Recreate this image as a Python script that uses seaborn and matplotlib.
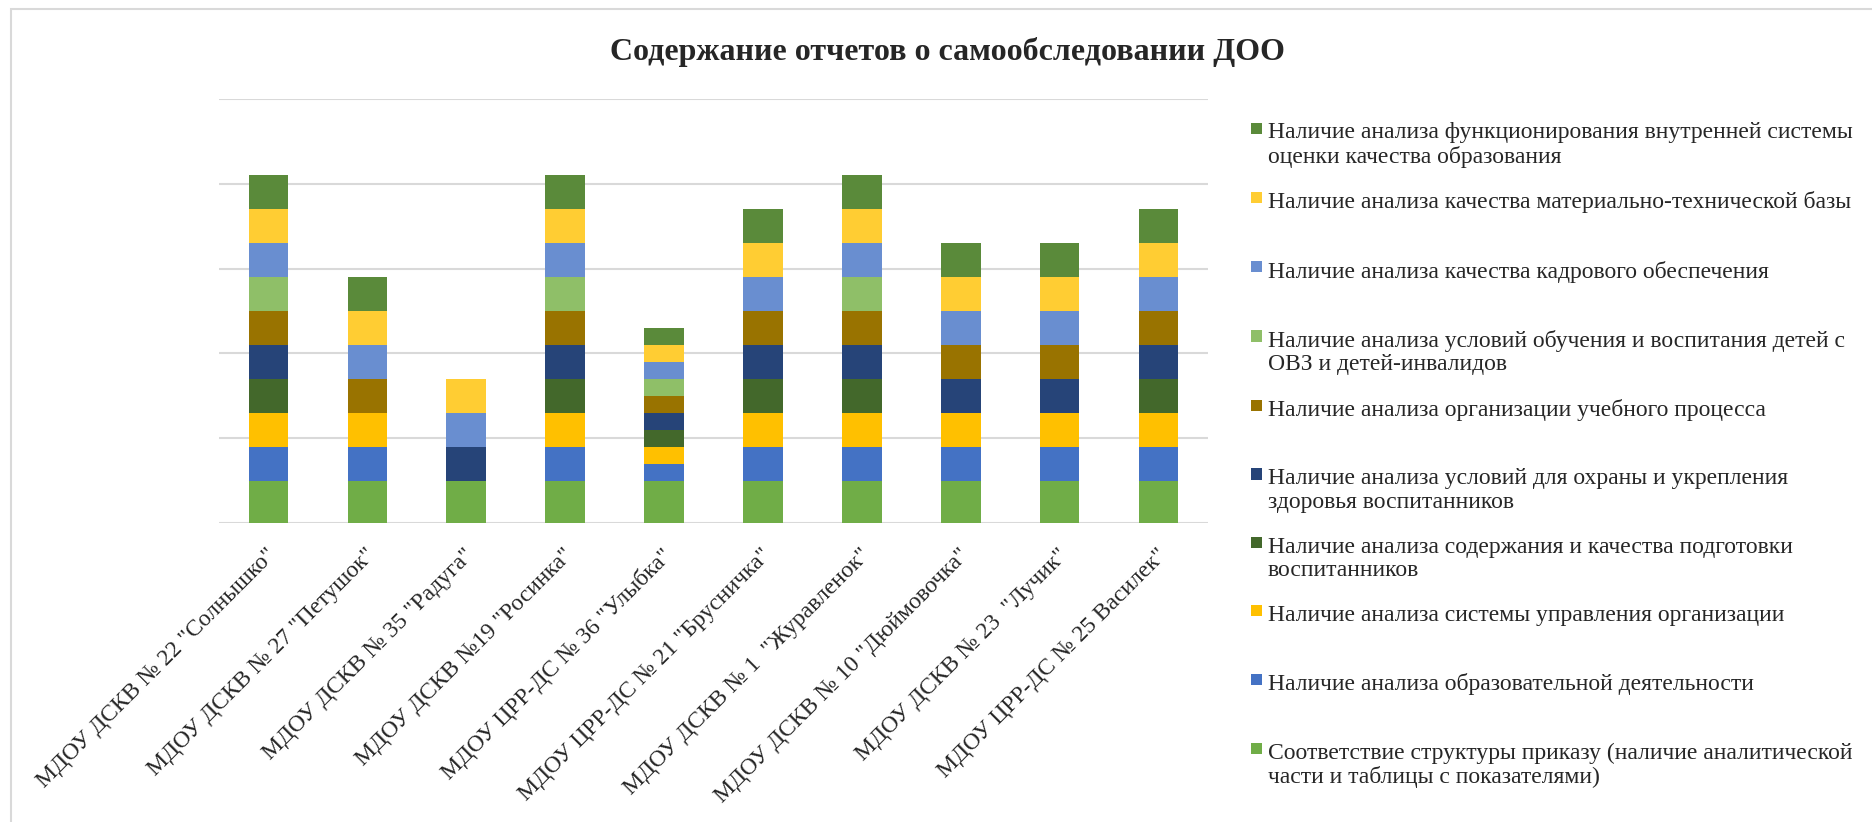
import pandas as pd
import matplotlib.pyplot as plt
import matplotlib.patches as mpatches
from matplotlib.legend_handler import HandlerPatch
from matplotlib.transforms import ScaledTranslation
import seaborn as sns

# schools (x axis)
schools = [
    'МДОУ ДСКВ № 22 "Солнышко"',
    'МДОУ ДСКВ № 27 "Петушок"',
    'МДОУ ДСКВ № 35 "Радуга"',
    'МДОУ ДСКВ №19 "Росинка"',
    'МДОУ ЦРР-ДС № 36 "Улыбка"',
    'МДОУ ЦРР-ДС № 21 "Брусничка"',
    'МДОУ ДСКВ № 1  "Журавленок"',
    'МДОУ ДСКВ № 10 "Дюймовочка"',
    'МДОУ ДСКВ № 23  "Лучик"',
    'МДОУ ЦРР-ДС № 25 Василек"',
]

# series, bottom to top of the stack
struktura = [0.5, 0.5, 0.5, 0.5, 0.5, 0.5, 0.5, 0.5, 0.5, 0.5]
obrazovanie = [0.4, 0.4, 0.0, 0.4, 0.2, 0.4, 0.4, 0.4, 0.4, 0.4]
upravlenie = [0.4, 0.4, 0.0, 0.4, 0.2, 0.4, 0.4, 0.4, 0.4, 0.4]
podgotovka = [0.4, 0.0, 0.0, 0.4, 0.2, 0.4, 0.4, 0.0, 0.0, 0.4]
zdorovie = [0.4, 0.0, 0.4, 0.4, 0.2, 0.4, 0.4, 0.4, 0.4, 0.4]
uchebny = [0.4, 0.4, 0.0, 0.4, 0.2, 0.4, 0.4, 0.4, 0.4, 0.4]
ovz = [0.4, 0.0, 0.0, 0.4, 0.2, 0.0, 0.4, 0.0, 0.0, 0.0]
kadry = [0.4, 0.4, 0.4, 0.4, 0.2, 0.4, 0.4, 0.4, 0.4, 0.4]
mtb = [0.4, 0.4, 0.4, 0.4, 0.2, 0.4, 0.4, 0.4, 0.4, 0.4]
vsoko = [0.4, 0.4, 0.0, 0.4, 0.2, 0.4, 0.4, 0.4, 0.4, 0.4]

series = [
    ("Соответствие структуры приказу (наличие аналитической\nчасти и таблицы с показателями)", struktura, "#70AD47"),
    ("Наличие анализа образовательной деятельности", obrazovanie, "#4472C4"),
    ("Наличие анализа системы управления организации", upravlenie, "#FFC000"),
    ("Наличие анализа содержания и качества подготовки\nвоспитанников", podgotovka, "#43682B"),
    ("Наличие анализа условий для охраны и укрепления\nздоровья воспитанников", zdorovie, "#264478"),
    ("Наличие анализа организации учебного процесса", uchebny, "#997300"),
    ("Наличие анализа условий обучения и воспитания детей с\nОВЗ и детей-инвалидов", ovz, "#8FBF68"),
    ("Наличие анализа качества кадрового обеспечения", kadry, "#698ED0"),
    ("Наличие анализа качества материально-технической базы", mtb, "#FFCD33"),
    ("Наличие анализа функционирования внутренней системы\nоценки качества образования", vsoko, "#5A8A3A"),
]

sns.set_style("white")
plt.rcParams["font.family"] = ["Liberation Serif", "DejaVu Serif"]

fig = plt.figure(figsize=(18.72, 8.22), dpi=100)
ax = fig.add_axes([219 / 1872, 1 - 523 / 822, (1208 - 219) / 1872, (523 - 99) / 822])

bottom = [0.0] * len(schools)
for name, vals, color in series:
    df = pd.DataFrame({"school": schools, "value": vals})
    sns.barplot(data=df, x="school", y="value", order=schools, color=color,
                saturation=1, width=0.4, errorbar=None, linewidth=0,
                bottom=bottom, ax=ax)
    bottom = [b + v for b, v in zip(bottom, vals)]

ax.set_xlim(-0.5, len(schools) - 0.5)
ax.set_ylim(0, 5)
ax.set_yticks(range(0, 6))
ax.set_yticklabels([])
ax.set_xlabel("")
ax.set_ylabel("")
ax.grid(axis="y", color="#D9D9D9", linewidth=1.5)
ax.set_axisbelow(True)
for sp in ax.spines.values():
    sp.set_visible(False)
ax.tick_params(axis="both", length=0)
ax.tick_params(axis="x", pad=21, labelsize=17)
plt.setp(ax.get_xticklabels(), rotation=45, ha="right", va="center",
         rotation_mode="anchor")
shift = ScaledTranslation(5 / 100, 0, fig.dpi_scale_trans)
for lab in ax.get_xticklabels():
    lab.set_transform(lab.get_transform() + shift)

fig.text(948 / 1872, 1 - 52 / 822, "Содержание отчетов о самообследовании ДОО",
         ha="center", va="center", fontsize=23, fontweight="bold")


# legend square sits next to the first text line
def top_square(legend, orig_handle, xdescent, ydescent, width, height, fontsize):
    s = 0.48 * fontsize
    return mpatches.Rectangle((-xdescent + width - s, 0.8 * fontsize), s, s)


handles = []
labels = []
for name, vals, color in reversed(series):
    handles.append(mpatches.Patch(facecolor=color, linewidth=0))
    labels.append(name if "\n" in name else name + "\n ")

leg = fig.legend(handles, labels, loc="upper left",
                 bbox_to_anchor=(1251 / 1872, 1 - 122 / 822),
                 bbox_transform=fig.transFigure, frameon=False,
                 borderpad=0, borderaxespad=0, fontsize=17,
                 handlelength=0.48, handletextpad=0.22, labelspacing=1.01,
                 handler_map={mpatches.Patch: HandlerPatch(patch_func=top_square)})
for t in leg.get_texts():
    t.set_linespacing(1.15)

fig.add_artist(mpatches.Rectangle((11 / 1872, -0.1), 2, 1 - 9 / 822 + 0.1,
                                  transform=fig.transFigure, fill=False,
                                  edgecolor="#D9D9D9", linewidth=1.5))

fig.savefig("out.png", dpi=100)
